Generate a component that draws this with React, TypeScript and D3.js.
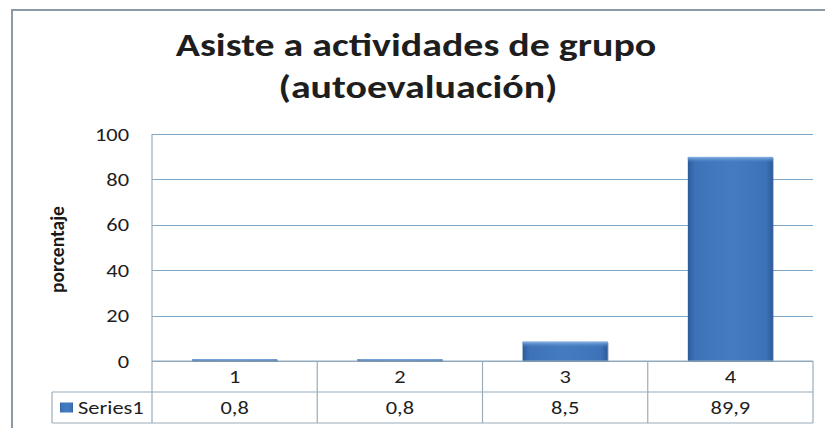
import React from "react";
import * as d3 from "d3";

const categories = ["1", "2", "3", "4"];
const values = [0.8, 0.8, 8.5, 89.9];
const valueLabels = ["0,8", "0,8", "8,5", "89,9"];
const yTicks = [0, 20, 40, 60, 80, 100];
const seriesName = "Series1";

const W = 825;
const H = 428;
const plot = { left: 152, right: 813, top: 134, bottom: 361 };
const rowH = 31;
const font = "Calibri, Carlito, 'Open Sans', sans-serif";

// the source picture is stretched a little horizontally, so text is widened too
function Txt(props: {
  x: number;
  y: number;
  size: number;
  anchor?: string;
  bold?: boolean;
  sx?: number;
  dy?: string;
  children: React.ReactNode;
}) {
  const { x, y, size, anchor = "start", bold = false, sx = 1.18, dy, children } = props;
  return (
    <g transform={`translate(${x},${y}) scale(${sx},1)`}>
      <text
        textAnchor={anchor}
        dy={dy}
        fontFamily={font}
        fontWeight={bold ? "bold" : "normal"}
        fontSize={size}
        fill="#1e1e1e"
      >
        {children}
      </text>
    </g>
  );
}

export default function App() {
  const x = d3
    .scaleBand<string>()
    .domain(categories)
    .range([plot.left, plot.right])
    .paddingInner(0.485)
    .paddingOuter(0.2425);
  const y = d3.scaleLinear().domain([0, 100]).range([plot.bottom, plot.top]);
  const colEdges = d3.range(categories.length + 1).map(
    (i) => plot.left + (i * (plot.right - plot.left)) / categories.length
  );
  const gridColor = "#7fa9c8";
  const tableColor = "#9aacba";
  const gy = (t: number) => Math.round(y(t)) + 0.5;

  return (
    <div style={{ position: "fixed", left: 0, top: 0 }}>
      <svg width={W} height={H} style={{ display: "block", background: "#fff" }}>
        <defs>
          <linearGradient id="barGrad" x1="0" x2="1" y1="0" y2="0">
            <stop offset="0" stopColor="#2c5b9a" />
            <stop offset="0.08" stopColor="#3d72b8" />
            <stop offset="0.5" stopColor="#457cc1" />
            <stop offset="0.92" stopColor="#3d72b8" />
            <stop offset="1" stopColor="#2c5b9a" />
          </linearGradient>
          <linearGradient id="topGrad" x1="0" x2="0" y1="0" y2="1">
            <stop offset="0" stopColor="#8ab4e6" />
            <stop offset="1" stopColor="#447bc0" stopOpacity="0" />
          </linearGradient>
        </defs>

        {/* outer frame */}
        <path d={`M12,${H} V10 H${W}`} fill="none" stroke="#8c9aa5" strokeWidth={2} />

        {/* title */}
        <Txt x={416} y={56} size={33} anchor="middle" bold sx={1.21}>
          Asiste a actividades de grupo
        </Txt>
        <Txt x={418} y={98} size={33} anchor="middle" bold sx={1.21}>
          (autoevaluación)
        </Txt>

        {/* gridlines */}
        {yTicks.map((t) => (
          <line key={t} x1={plot.left} x2={plot.right} y1={gy(t)} y2={gy(t)} stroke={gridColor} strokeWidth={1} />
        ))}

        {/* y tick labels */}
        {yTicks.map((t) => (
          <Txt key={"l" + t} x={129} y={y(t)} dy="0.35em" size={19} anchor="end">
            {t}
          </Txt>
        ))}

        {/* y axis title */}
        <g transform={`translate(64,${(plot.top + plot.bottom) / 2 + 2}) rotate(-90)`}>
          <text textAnchor="middle" fontFamily={font} fontWeight="bold" fontSize={19.5} fill="#1a1a1a">
            porcentaje
          </text>
        </g>

        {/* bars */}
        {categories.map((c, i) => {
          const bx = x(c)!;
          const by = y(values[i]);
          const bh = plot.bottom - by;
          return (
            <g key={c}>
              <rect x={bx + 1} y={by + 1} width={x.bandwidth()} height={bh} fill="#1f3f6b" opacity={0.35} />
              <rect x={bx} y={by} width={x.bandwidth()} height={bh} fill="url(#barGrad)" />
              <rect x={bx} y={by} width={x.bandwidth()} height={Math.min(6, bh)} fill="url(#topGrad)" />
            </g>
          );
        })}

        {/* data table */}
        <line x1={plot.left} x2={plot.left} y1={plot.top} y2={plot.bottom + 2 * rowH} stroke={tableColor} strokeWidth={1.2} />
        <line x1={plot.left} x2={plot.right} y1={plot.bottom} y2={plot.bottom} stroke={tableColor} strokeWidth={1.2} />
        <line x1={52} x2={plot.right} y1={plot.bottom + rowH} y2={plot.bottom + rowH} stroke={tableColor} strokeWidth={1.2} />
        <line x1={52} x2={plot.right} y1={plot.bottom + 2 * rowH} y2={plot.bottom + 2 * rowH} stroke={tableColor} strokeWidth={1.2} />
        <line x1={52} x2={52} y1={plot.bottom + rowH} y2={plot.bottom + 2 * rowH} stroke={tableColor} strokeWidth={1.2} />
        {colEdges.slice(1).map((e, i) => (
          <line key={"c" + i} x1={e} x2={e} y1={plot.bottom} y2={plot.bottom + 2 * rowH} stroke={tableColor} strokeWidth={1.2} />
        ))}
        {categories.map((c) => (
          <Txt key={"cat" + c} x={x(c)! + x.bandwidth() / 2} y={plot.bottom + rowH / 2} dy="0.36em" size={19} anchor="middle">
            {c}
          </Txt>
        ))}
        {valueLabels.map((v, i) => (
          <Txt key={"v" + i} x={x(categories[i])! + x.bandwidth() / 2} y={plot.bottom + rowH * 1.5} dy="0.36em" size={19} anchor="middle">
            {v}
          </Txt>
        ))}
        <rect x={60} y={plot.bottom + rowH * 1.5 - 5} width={13} height={10} fill="url(#barGrad)" />
        <Txt x={78} y={plot.bottom + rowH * 1.5} dy="0.36em" size={19}>
          {seriesName}
        </Txt>
      </svg>
    </div>
  );
}
